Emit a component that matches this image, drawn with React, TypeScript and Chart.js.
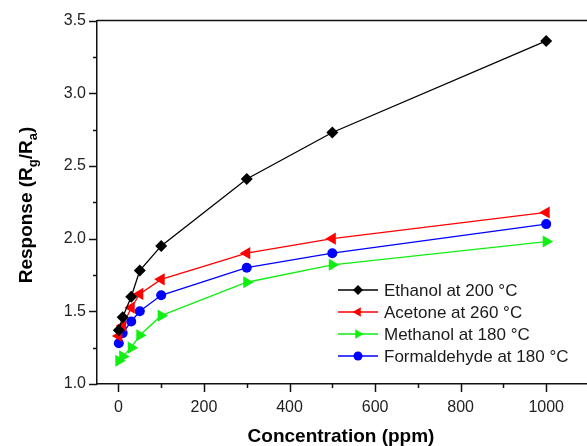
import React, { useEffect, useRef } from "react";
import { Chart, registerables } from "chart.js";

Chart.register(...registerables);

const concentrations = [1, 10, 30, 50, 100, 300, 500, 1000];
const ethanol = [1.37, 1.46, 1.6, 1.78, 1.95, 2.41, 2.73, 3.36];
const acetone = [1.33, 1.4, 1.525, 1.62, 1.72, 1.9, 2.0, 2.18];
const methanol = [1.16, 1.19, 1.25, 1.335, 1.47, 1.7, 1.82, 1.98];
const formaldehyde = [1.28, 1.35, 1.43, 1.5, 1.61, 1.8, 1.9, 2.1];

const seriesLabels = [
  "Ethanol at 200 °C",
  "Acetone at 260 °C",
  "Methanol at 180 °C",
  "Formaldehyde at 180 °C",
];

const xTickValues = [0, 200, 400, 600, 800, 1000];
const xMinorTicks = [100, 300, 500, 700, 900];
const yTickValues = [1.0, 1.5, 2.0, 2.5, 3.0, 3.5];
const yMinorTicks = [1.25, 1.75, 2.25, 2.75, 3.25];

const FONT = "'Liberation Sans', Arial, sans-serif";

const styles = [
  { color: "#000000", pointStyle: "rectRot", rotation: 0, radius: 6, legendRadius: 5 },
  { color: "#ff0000", pointStyle: "triangle", rotation: -90, radius: 7, legendRadius: 5.5 },
  { color: "#11ee11", pointStyle: "triangle", rotation: 90, radius: 7, legendRadius: 5.5 },
  { color: "#0000ff", pointStyle: "circle", rotation: 0, radius: 5, legendRadius: 4.5 },
];

const seriesValues = [ethanol, acetone, methanol, formaldehyde];

function drawMarker(ctx: CanvasRenderingContext2D, kind: string, rot: number, r: number, x: number, y: number) {
  ctx.beginPath();
  if (kind === "circle") {
    ctx.arc(x, y, r, 0, Math.PI * 2);
  } else if (kind === "rectRot") {
    ctx.moveTo(x, y - r);
    ctx.lineTo(x + r, y);
    ctx.lineTo(x, y + r);
    ctx.lineTo(x - r, y);
    ctx.closePath();
  } else {
    const a0 = (rot * Math.PI) / 180;
    for (let k = 0; k < 3; k++) {
      const a = a0 + (k * 2 * Math.PI) / 3;
      const px = x + Math.sin(a) * r;
      const py = y - Math.cos(a) * r;
      if (k === 0) ctx.moveTo(px, py);
      else ctx.lineTo(px, py);
    }
    ctx.closePath();
  }
  ctx.fill();
}

const overlay = {
  id: "overlay",
  afterDraw(chart: any) {
    const ctx = chart.ctx;
    const xs = chart.scales.x;
    const ys = chart.scales.y;
    const area = chart.chartArea;
    ctx.save();
    ctx.strokeStyle = "#111";
    ctx.lineWidth = 1.5;
    const tick = (x1: number, y1: number, x2: number, y2: number) => {
      ctx.beginPath();
      ctx.moveTo(x1, y1);
      ctx.lineTo(x2, y2);
      ctx.stroke();
    };
    // top frame
    tick(area.left, area.top, area.right + 2, area.top);
    xTickValues.forEach((v) => {
      const p = Math.round(xs.getPixelForValue(v)) + 0.5;
      tick(p, area.bottom, p, area.bottom + 8);
    });
    xMinorTicks.forEach((v) => {
      const p = Math.round(xs.getPixelForValue(v)) + 0.5;
      tick(p, area.bottom, p, area.bottom + 4);
    });
    yTickValues.forEach((v) => {
      const p = Math.round(ys.getPixelForValue(v)) + 0.5;
      tick(area.left, p, area.left - 8, p);
    });
    yMinorTicks.forEach((v) => {
      const p = Math.round(ys.getPixelForValue(v)) + 0.5;
      tick(area.left, p, area.left - 4, p);
    });

    // legend
    const lx0 = 338;
    const lx1 = 378;
    const mx = 358;
    const tx = 384;
    const rows = [290, 312, 334, 356];
    ctx.font = `17px ${FONT}`;
    ctx.textBaseline = "middle";
    ctx.textAlign = "left";
    seriesLabels.forEach((label, i) => {
      const st = styles[i];
      const y = rows[i];
      ctx.strokeStyle = st.color;
      ctx.lineWidth = 1.3;
      tick(lx0, y, lx1, y);
      ctx.fillStyle = st.color;
      drawMarker(ctx, st.pointStyle, st.rotation, st.legendRadius, mx, y);
      ctx.fillStyle = "#1a1a1a";
      ctx.fillText(label, tx, y + 1);
    });

    // x title
    ctx.fillStyle = "#000";
    ctx.font = `bold 19px ${FONT}`;
    ctx.textAlign = "center";
    ctx.fillText("Concentration (ppm)", 341, 437);

    // y title with subscripts
    ctx.translate(27, 205);
    ctx.rotate(-Math.PI / 2);
    const big = `bold 19px ${FONT}`;
    const small = `bold 13px ${FONT}`;
    const parts: [string, boolean][] = [
      ["Response (R", false],
      ["g", true],
      ["/R", false],
      ["a", true],
      [")", false],
    ];
    let total = 0;
    parts.forEach(([t, sub]) => {
      ctx.font = sub ? small : big;
      total += ctx.measureText(t).width;
    });
    let cx = -total / 2;
    ctx.textAlign = "left";
    parts.forEach(([t, sub]) => {
      ctx.font = sub ? small : big;
      ctx.fillText(t, cx, sub ? 6 : 0);
      cx += ctx.measureText(t).width;
    });
    ctx.restore();
  },
};

export default function App() {
  const ref = useRef<HTMLCanvasElement | null>(null);
  useEffect(() => {
    if (!ref.current) return;
    const chart = new Chart(ref.current, {
      type: "line",
      data: {
        datasets: seriesValues.map((vals, i) => ({
          label: seriesLabels[i],
          data: concentrations.map((c, j) => ({ x: c, y: vals[j] })),
          borderColor: styles[i].color,
          backgroundColor: styles[i].color,
          borderWidth: 1.3,
          pointStyle: styles[i].pointStyle as any,
          rotation: styles[i].rotation,
          pointRadius: styles[i].radius,
          pointBorderWidth: 0,
          tension: 0,
        })),
      },
      options: {
        responsive: false,
        animation: false,
        layout: { padding: { left: 0, top: 20, right: 11, bottom: 0 } },
        plugins: { legend: { display: false }, tooltip: { enabled: false } },
        scales: {
          x: {
            type: "linear",
            min: -50,
            max: 1100,
            grid: { display: false, drawTicks: false },
            border: { display: true, color: "#111", width: 1.5 },
            afterBuildTicks: (s: any) => {
              s.ticks = xTickValues.map((v) => ({ value: v }));
            },
            afterFit: (s: any) => {
              s.height = 62;
            },
            ticks: {
              padding: 14,
              color: "#222",
              font: { family: FONT, size: 16 },
              maxRotation: 0,
              callback: (v: any) => String(v),
            },
          },
          y: {
            type: "linear",
            min: 1.0,
            max: 3.5,
            grid: { display: false, drawTicks: false },
            border: { display: true, color: "#111", width: 1.5 },
            afterBuildTicks: (s: any) => {
              s.ticks = yTickValues.map((v) => ({ value: v }));
            },
            afterFit: (s: any) => {
              s.width = 97;
            },
            ticks: {
              padding: 11,
              color: "#222",
              font: { family: FONT, size: 16 },
              callback: (v: any) => Number(v).toFixed(1),
            },
          },
        },
      },
      plugins: [overlay],
    });
    return () => chart.destroy();
  }, []);
  return (
    <div style={{ position: "fixed", left: 0, top: 0, width: 600, height: 446, overflow: "hidden", background: "#fff" }}>
      <canvas ref={ref} width={600} height={446} />
    </div>
  );
}
